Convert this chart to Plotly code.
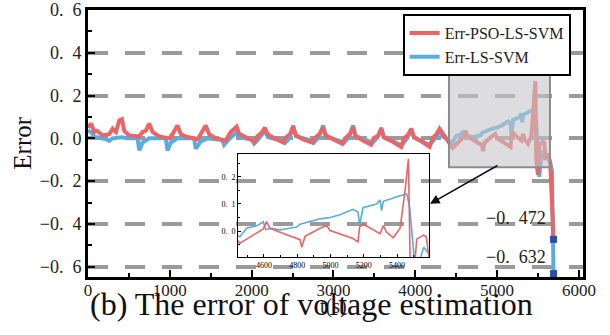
import plotly.graph_objects as go

# ---------------- data ----------------
t_pso = [0, 37, 78, 110, 179, 260, 301, 342, 382, 415, 443, 504, 626, 667, 707, 748, 789, 870,
         992, 1033, 1094, 1134, 1195, 1338, 1378, 1439, 1480, 1561, 1683, 1744, 1817, 1850,
         1930, 2040, 2070, 2120, 2162, 2195, 2280, 2390, 2420, 2470, 2508, 2540, 2630, 2740,
         2770, 2830, 2874, 2905, 3000, 3110, 3140, 3200, 3240, 3270, 3360, 3460, 3490, 3550,
         3585, 3615, 3720, 3829, 3860, 3910, 3951, 3985, 4080, 4175, 4210, 4260, 4297, 4330,
         4400, 4456, 4496, 4560, 4596, 4616, 4636, 4720, 4817, 4827, 4847, 4937, 4977, 4997,
         5070, 5135, 5165, 5175, 5195, 5250, 5297, 5317, 5337, 5377, 5418, 5448, 5468, 5478,
         5500, 5518, 5558, 5575, 5592, 5620, 5650, 5690]
err_pso = [0.05, 0.069, 0.03, 0.035, 0.014, 0.02, 0.045, 0.03, 0.084, 0.09, 0.035, 0.014, 0.009,
           0.03, 0.036, 0.069, 0.03, 0.009, 0.0, 0.02, 0.06, 0.02, 0.009, -0.005, 0.02, 0.06,
           0.02, 0.0, -0.01, 0.03, 0.055, 0.02, 0.005, -0.015, 0.01, 0.025, 0.05, 0.02, 0.0,
           -0.02, 0.005, 0.02, 0.055, 0.015, -0.005, -0.02, 0.0, 0.02, 0.05, 0.015, -0.005,
           -0.025, 0.0, 0.02, 0.05, 0.01, -0.01, -0.03, 0.0, 0.015, 0.045, 0.005, -0.015,
           -0.04, 0.0, 0.015, 0.045, 0.005, -0.015, -0.04, 0.0, 0.02, 0.045, 0.025, -0.01,
           -0.045, -0.03, -0.005, 0.008, 0.035, 0.01, -0.01, -0.032, -0.06, -0.02, 0.01, 0.02,
           0.002, -0.015, -0.028, -0.04, 0.015, 0.026, 0.005, -0.01, 0.02, -0.005, -0.025,
           0.01, 0.15, 0.267, -0.1, -0.17, -0.03, -0.015, -0.02, -0.1, -0.07, -0.12, -0.472]

t_ls = [0, 37, 78, 179, 230, 260, 301, 415, 504, 606, 626, 667, 748, 951, 972, 1012, 1094,
        1297, 1317, 1378, 1460, 1642, 1663, 1720, 1817, 1850, 2000, 2030, 2080, 2162, 2200,
        2380, 2410, 2460, 2508, 2540, 2730, 2760, 2820, 2874, 2905, 3100, 3130, 3190, 3240,
        3270, 3450, 3480, 3540, 3585, 3615, 3820, 3850, 3900, 3951, 3985, 4170, 4200, 4250,
        4297, 4330, 4400, 4456, 4496, 4560, 4596, 4610, 4650, 4696, 4797, 4817, 4937, 4997,
        5057, 5135, 5165, 5175, 5195, 5277, 5297, 5307, 5317, 5418, 5458, 5475, 5500, 5515,
        5530, 5560, 5586, 5640, 5670, 5690]
err_ls = [0.035, 0.03, 0.008, 0.0, -0.005, -0.012, 0.0, 0.005, 0.0, 0.0, -0.056, -0.02, 0.0,
          0.0, -0.056, -0.02, 0.0, 0.0, -0.048, -0.015, 0.0, -0.008, -0.03, -0.005, 0.03,
          0.005, -0.005, -0.025, -0.005, 0.035, 0.005, -0.01, -0.02, 0.0, 0.06, 0.01, -0.01,
          -0.02, 0.005, 0.06, 0.01, -0.015, -0.02, 0.005, 0.06, 0.01, -0.02, -0.02, 0.005,
          0.05, 0.005, -0.03, -0.025, 0.0, 0.04, 0.005, -0.03, -0.02, 0.005, 0.035, 0.01,
          -0.005, -0.021, 0.01, 0.02, 0.034, 0.005, 0.01, 0.004, 0.015, 0.025, 0.045, 0.05,
          0.06, 0.08, 0.07, 0.022, 0.086, 0.1, 0.115, 0.075, 0.11, 0.13, 0.137, 0.09, -0.05,
          -0.18, -0.12, -0.06, -0.08, -0.1, -0.15, -0.632]

end_t = [5690, 5690]
end_err = [-0.472, -0.632]
end_labels = ["\u22120.\u2002472", "\u22120.\u2002632"]

x_ticks = [0, 1000, 2000, 3000, 4000, 5000, 6000]
y_ticks = [-0.6, -0.4, -0.2, 0.0, 0.2, 0.4, 0.6]
y_tick_text = ["\u22120.\u20026", "\u22120.\u20024", "\u22120.\u20022", "0.\u20020",
               "0.\u20022", "0.\u20024", "0.\u20026"]
inset_x_ticks = [4600, 4800, 5000, 5200, 5400]
inset_y_ticks = [0.0, 0.1, 0.2]
inset_y_text = ["0.\u20020", "0.\u20021", "0.\u20022"]

RED = "#EB6466"
BLUE = "#58ACDF"
FONT = "Liberation Serif"

fig = go.Figure()
# main
fig.add_trace(go.Scatter(x=t_ls, y=err_ls, mode="lines", name="Err-LS-SVM",
                         line=dict(color=BLUE, width=4), xaxis="x", yaxis="y"))
fig.add_trace(go.Scatter(x=t_pso, y=err_pso, mode="lines", name="Err-PSO-LS-SVM",
                         line=dict(color=RED, width=4), xaxis="x", yaxis="y"))
fig.add_trace(go.Scatter(x=end_t, y=end_err, mode="markers", showlegend=False,
                         marker=dict(symbol="square", size=7, color="#2B4FA8"),
                         xaxis="x", yaxis="y"))
# inset
fig.add_trace(go.Scatter(x=t_ls, y=err_ls, mode="lines", showlegend=False,
                         line=dict(color=BLUE, width=1.6), xaxis="x2", yaxis="y2"))
fig.add_trace(go.Scatter(x=t_pso, y=err_pso, mode="lines", showlegend=False,
                         line=dict(color=RED, width=1.6), xaxis="x2", yaxis="y2"))

fig.update_layout(
    width=610, height=335,
    margin=dict(l=88, r=27, t=10, b=58, autoexpand=False),
    paper_bgcolor="white", plot_bgcolor="rgba(0,0,0,0)",
    font=dict(family=FONT, color="black"),
    showlegend=True,
    legend=dict(x=0.975, xanchor="right", y=0.985, yanchor="top",
                bgcolor="white", bordercolor="black", borderwidth=2,
                font=dict(family=FONT, size=16, color="#222"), traceorder="reversed",
                tracegroupgap=0),
    xaxis=dict(domain=[0, 1], range=[0, 6050], tickmode="array", tickvals=x_ticks,
               ticks="inside", ticklen=7, tickwidth=2, tickcolor="black",
               showline=True, linecolor="black", linewidth=3, mirror=True,
               showgrid=False, zeroline=False, automargin=False, ticklabelstandoff=-4,
               tickfont=dict(family=FONT, size=17, color="#222"),
               minor=dict(tickvals=[500, 1500, 2500, 3500, 4500, 5500], ticks="inside",
                          ticklen=4, tickwidth=2, tickcolor="black", showgrid=False),
               anchor="y"),
    yaxis=dict(domain=[0, 1], range=[-0.648, 0.6], tickmode="array", tickvals=y_ticks,
               ticktext=y_tick_text, ticks="inside", ticklen=7, tickwidth=2,
               tickcolor="black", showline=True, linecolor="black", linewidth=3,
               mirror=True, showgrid=True, gridcolor="#9A9A9A", gridwidth=3.5,
               griddash="20px,17px", zeroline=False, automargin=False,
               tickfont=dict(family=FONT, size=18, color="#222"),
               minor=dict(tickvals=[-0.5, -0.3, -0.1, 0.1, 0.3, 0.5], ticks="inside",
                          ticklen=4, tickwidth=2, tickcolor="black", showgrid=False),
               anchor="x"),
    xaxis2=dict(domain=[0.303, 0.689], range=[4444, 5592], tickmode="array",
                tickvals=inset_x_ticks, ticks="inside", ticklen=3, tickwidth=1,
                tickcolor="black", showline=True, linecolor="black", linewidth=1,
                mirror=True, showgrid=False, zeroline=False, automargin=False,
                tickfont=dict(family=FONT, size=8, color="black"),
                minor=dict(tickvals=[4500, 4700, 4900, 5100, 5300, 5500], ticks="inside",
                           ticklen=2, tickwidth=1, tickcolor="black"),
                anchor="y2"),
    yaxis2=dict(domain=[0.075, 0.461], range=[-0.096, 0.285], tickmode="array",
                tickvals=inset_y_ticks, ticktext=inset_y_text, ticks="inside", ticklen=3,
                tickwidth=1, tickcolor="black", showline=True, linecolor="black",
                linewidth=1, mirror=True, showgrid=False, zeroline=False, automargin=False,
                tickfont=dict(family=FONT, size=8, color="black"),
                minor=dict(tickvals=[-0.05, 0.05, 0.15, 0.25], ticks="inside",
                           ticklen=2, tickwidth=1, tickcolor="black"),
                anchor="x2"),
)

# highlighted region
fig.add_shape(type="rect", xref="x", yref="y", x0=4412, x1=5646, y0=-0.135, y1=0.315,
              fillcolor="rgba(198,198,202,0.6)", line=dict(color="#8C8C8C", width=2),
              layer="above")

# arrow from region to inset
fig.add_annotation(x=4180, y=-0.306, ax=5023, ay=-0.123, xref="x", yref="y",
                   axref="x", ayref="y", showarrow=True, arrowhead=2, arrowsize=1.2,
                   arrowwidth=1.6, arrowcolor="#111", text="")

# end value labels
for v, s, dy in zip(end_err, end_labels, [21, 17]):
    fig.add_annotation(x=5690, y=v, xref="x", yref="y", text=s, showarrow=False,
                       xanchor="right", yanchor="middle", xshift=-6, yshift=dy,
                       font=dict(family=FONT, size=18, color="#222"))

# axis titles / caption
fig.add_annotation(x=-0.133, y=0.5, xref="paper", yref="paper", text="Error",
                   textangle=-90, showarrow=False, xanchor="center", yanchor="middle",
                   font=dict(family=FONT, size=25, color="#111"))
fig.add_annotation(x=0.495, y=-0.109, xref="paper", yref="paper", text="t(s)",
                   showarrow=False, xanchor="center", yanchor="middle",
                   font=dict(family=FONT, size=20, color="#222"))
fig.add_annotation(x=0.4525, y=-0.101, xref="paper", yref="paper",
                   text="(b) The error of voltage estimation", showarrow=False,
                   xanchor="center", yanchor="middle",
                   font=dict(family=FONT, size=32, color="#111"))

fig.write_html("out.html")
